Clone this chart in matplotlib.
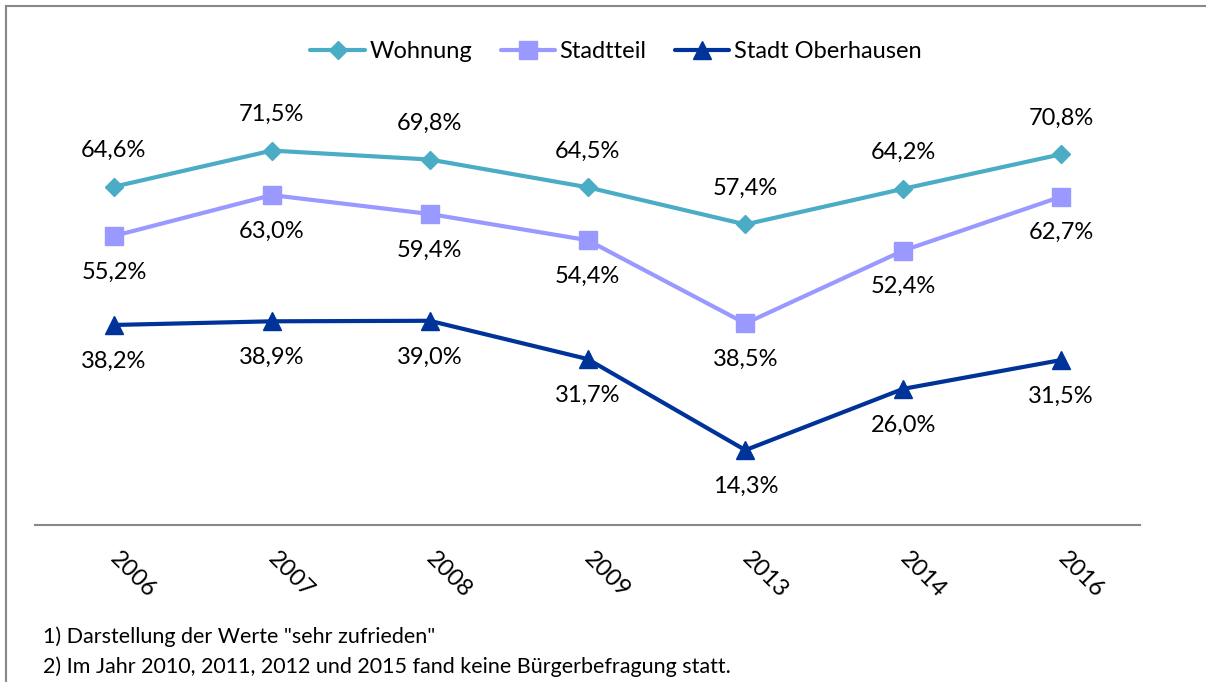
import matplotlib.pyplot as plt
from matplotlib.lines import Line2D

plt.rcParams['font.family'] = ['Lato', 'DejaVu Sans']

years = ["2006", "2007", "2008", "2009", "2013", "2014", "2016"]
wohnung = [64.6, 71.5, 69.8, 64.5, 57.4, 64.2, 70.8]
stadtteil = [55.2, 63.0, 59.4, 54.4, 38.5, 52.4, 62.7]
stadt = [38.2, 38.9, 39.0, 31.7, 14.3, 26.0, 31.5]

series = [
    ("Wohnung", wohnung, "#4BACC6", "D", 9.5, 1),
    ("Stadtteil", stadtteil, "#9999FF", "s", 12.5, -1),
    ("Stadt Oberhausen", stadt, "#003399", "^", 12.5, -1),
]

W, H = 1206, 682
fs = 17
fig = plt.figure(figsize=(W / 100, H / 100), dpi=100)
ax = fig.add_axes([35 / W, 1 - 525 / H, 1105 / W, (525 - 104) / H])

x = list(range(len(years)))
for name, vals, col, mk, ms, side in series:
    ax.plot(x, vals, color=col, lw=3, marker=mk, markersize=ms,
            markeredgecolor=col, label=name, solid_capstyle="round")
    for xi, v in zip(x, vals):
        ax.annotate(f"{v:.1f}%".replace(".", ","), (xi, v),
                    xytext=(0, 26 * side), textcoords="offset points",
                    ha="center", va="center", fontsize=fs)

ax.set_xlim(-0.5, len(years) - 0.5)
ax.set_ylim(0, 80.4)
ax.set_yticks([])
ax.set_xticks(x)
ax.set_xticklabels(years, rotation=-45, ha="left", va="center",
                   rotation_mode="anchor", fontsize=fs)
ax.tick_params(axis="x", length=0, pad=22)
for s in ["top", "right", "left"]:
    ax.spines[s].set_visible(False)
ax.spines["bottom"].set_color("#888888")
ax.spines["bottom"].set_linewidth(1.5)

handles = [Line2D([], [], color=c, lw=3, marker=m, markersize=ms, solid_capstyle="round")
           for _, _, c, m, ms, _ in series]
fig.legend(handles, [s[0] for s in series], loc="center",
           bbox_to_anchor=(616 / W, 1 - 52 / H), ncol=3, frameon=False,
           fontsize=fs, handlelength=2.3, handletextpad=0.2, columnspacing=1.2)

fig.text(43 / W, 1 - 637 / H, '1) Darstellung der Werte "sehr zufrieden"',
         fontsize=15.5, va="center")
fig.text(43 / W, 1 - 667 / H,
         "2) Im Jahr 2010, 2011, 2012 und 2015 fand keine Bürgerbefragung statt.",
         fontsize=15.5, va="center")

# frame lines (left and top)
fig.add_artist(Line2D([6 / W, 6 / W], [0, 1 - 6 / H], color="#888888", lw=1.5))
fig.add_artist(Line2D([6 / W, 1], [1 - 6 / H, 1 - 6 / H], color="#888888", lw=1.5))

fig.savefig("out.png", dpi=100)
